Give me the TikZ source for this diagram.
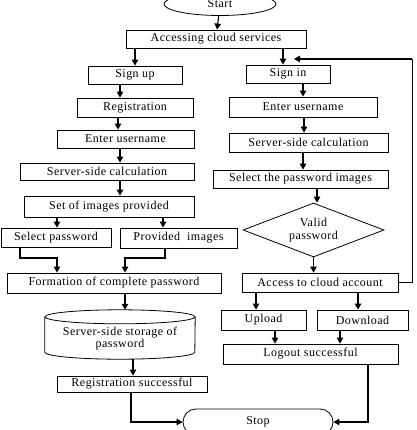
\documentclass[tikz,border=0pt]{standalone}
\usepackage{fontspec}
\setmainfont{Liberation Serif}[LetterSpace=4]
\usetikzlibrary{shapes.geometric,shapes.misc,arrows.meta}
\begin{document}
\begin{tikzpicture}[x=1pt,y=-1pt,
  txt/.style={font=\fontsize{12}{12.5}\selectfont,align=center,inner sep=0pt},
  box/.style={txt,draw,rectangle,line width=0.8pt},
  arr/.style={-{Triangle[length=6pt,width=6.5pt]},line width=1.1pt},
  line/.style={line width=0.8pt}]
\useasboundingbox (0,0) rectangle (416,430);

% terminators
\node[txt,draw,line width=0.8pt,ellipse,minimum width=112pt,minimum height=23pt] (start) at (220,4) {Start};
\node[txt,draw,line width=0.8pt,rounded rectangle,minimum width=150pt,minimum height=26pt] (stop) at (258,422) {Stop};

% common steps
\node[box,minimum width=180pt,minimum height=18pt] (access) at (216,39) {Accessing cloud services};

% sign-up branch
\node[box,minimum width=94pt,minimum height=18pt] (signup) at (135,75) {Sign up};
\node[box,minimum width=116pt,minimum height=19pt] (reg) at (135,107.5) {Registration};
\node[box,minimum width=137pt,minimum height=18pt] (userA) at (125.5,139) {Enter username};
\node[box,minimum width=174pt,minimum height=17pt] (calcA) at (107,171.5) {Server-side calculation};
\node[box,minimum width=170pt,minimum height=21pt] (setimg) at (109,206.5) {Set of images provided};
\node[box,minimum width=110pt,minimum height=19pt] (selpw) at (56,237.5) {Select password};
\node[box,minimum width=117pt,minimum height=20pt] (provimg) at (178.5,238) {Provided~ images};
\node[box,minimum width=214pt,minimum height=20pt] (formation) at (114,283) {Formation of complete password};
% storage drum: text node, outline drawn from its anchors
\node[txt,minimum width=150pt,minimum height=49pt] (storage) at (120,334.5) {\rule{0pt}{17pt}Server-side storage of\\password};
\draw[line] ([yshift=-7pt]storage.north west) -- ([yshift=7pt]storage.south west)
  arc[start angle=180,end angle=360,x radius=75pt,y radius=7pt] -- ([yshift=-7pt]storage.north east);
\draw[line] ([yshift=-7pt]storage.north) ellipse[x radius=75pt,y radius=7pt];
\node[box,minimum width=150pt,minimum height=16pt] (regok) at (132,384) {Registration successful};

% sign-in branch
\node[box,minimum width=84pt,minimum height=18pt] (signin) at (288,74) {Sign in};
\node[box,minimum width=148pt,minimum height=20pt] (userB) at (303,107) {Enter username};
\node[box,minimum width=159pt,minimum height=19pt] (calcB) at (308.5,142.5) {Server-side calculation};
\node[box,minimum width=175pt,minimum height=18pt] (selimg) at (300.5,179) {Select the password images};
\node[txt,draw,line width=0.8pt,diamond,aspect=2.6,minimum width=141pt,minimum height=54pt] (valid) at (313.5,230) {Valid\\password};
\node[box,minimum width=156pt,minimum height=19pt] (account) at (320,282.5) {Access to cloud account};
\node[box,minimum width=85pt,minimum height=20pt] (upload) at (263.5,320) {Upload};
\node[box,minimum width=91pt,minimum height=20pt] (download) at (362.5,320) {Download};
\node[box,minimum width=175pt,minimum height=20pt] (logout) at (310.5,354) {Logout successful};

% helper points for bent connectors
\coordinate (loopcorner) at (412,59);
\coordinate (loopend) at (294,59);

% connectors
\draw[arr] (start) -- (access);
\draw[arr] (access.south -| signup) -- (signup);
\draw[arr] (access.south -| 283,0) -- (signin.north -| 283,0);
\draw[arr] ([xshift=-15]signup.south) -- ([xshift=-15]reg.north);
\draw[arr] (reg.south -| 118,0) -- (userA.north -| 118,0);
\draw[arr] (userA.south -| 120,0) -- (calcA.north -| 120,0);
\draw[arr] (calcA.south -| 120,0) -- (setimg.north -| 120,0);
\draw[arr] (setimg.south -| 57,0) -- (selpw.north -| 57,0);
\draw[arr] (setimg.south -| 163,0) -- (provimg.north -| 163,0);
\draw[arr] (selpw.south -| 20,0) |- (57,258) -- (formation.north -| 57,0);
\draw[arr] (provimg.south -| 165,0) |- (125,258) -- (formation.north -| 125,0);
\draw[arr] (formation.south -| 125,0) -- (storage.north -| 125,0);
\draw[arr] (storage.south -| 133,0) -- (regok.north -| 133,0);
\draw[arr] (regok.south -| 131,0) |- (stop.west);

\draw[arr] (signin.south -| 303,0) -- (userB.north -| 303,0);
\draw[arr] (userB.south -| 304,0) -- (calcB.north -| 304,0);
\draw[arr] (calcB.south -| 303,0) -- (selimg.north -| 303,0);
\draw[arr] (selimg.south -| 317,0) -- (valid.north -| 317,0);
\draw[arr] (valid.south) -- (account.north -| valid.south);
\draw[arr] (account.south -| 256,0) -- (upload.north -| 256,0);
\draw[arr] (account.south -| 358,0) -- (download.north -| 358,0);
\draw[arr] (upload.south -| 275,0) -- (logout.north -| 275,0);
\draw[arr] (download.south -| 340,0) -- (logout.north -| 340,0);
\draw[arr] (logout.south -| 368,0) |- (stop.east);
\draw[line] (account.east) -| (loopcorner);
\draw[arr] (loopcorner) -- (loopend);
\end{tikzpicture}
\end{document}
